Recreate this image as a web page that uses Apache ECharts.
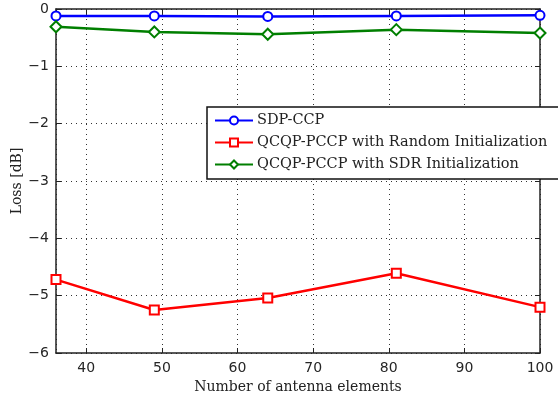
<!DOCTYPE html>
<html>
<head>
<meta charset="utf-8">
<script src="https://cdn.jsdelivr.net/npm/echarts@6/dist/echarts.min.js"></script>
<style>
  html, body { margin: 0; padding: 0; background: #fff; }
  #chart { width: 558px; height: 394px; }
</style>
</head>
<body>
<div id="chart"></div>
<script>
const antennas = [36, 49, 64, 81, 100]
const sdpCcp = [-0.12, -0.12, -0.13, -0.12, -0.11]
const qcqpRandom = [-4.72, -5.25, -5.04, -4.61, -5.2]
const qcqpSdr = [-0.31, -0.40, -0.44, -0.36, -0.42]

const SERIF = '"DejaVu Serif", "Liberation Serif", serif'
const SANS = '"DejaVu Sans", sans-serif'
const minus = (v) => String(v).replace('-', '\u2212')

const gridLine = { show: true, lineStyle: { color: '#333', type: [1, 4], width: 1 } }
const edge = { show: true, onZero: false, lineStyle: { color: '#222', width: 1.5 } }
const tickIn = { show: true, inside: true, length: 5, lineStyle: { color: '#222', width: 1 } }

function pairs(ys) {
  return antennas.map((x, i) => [x, ys[i]])
}

function line(name, ys, color, symbol, size) {
  return {
    name, type: 'line', data: pairs(ys),
    symbol, symbolSize: size,
    lineStyle: { color, width: 2.5 },
    itemStyle: { color: '#fff', borderColor: color, borderWidth: 2 },
    emphasis: { disabled: true },
  }
}

const chart = echarts.init(document.getElementById('chart'))
chart.setOption({
  animation: false,
  textStyle: { fontFamily: SANS },
  grid: { left: 56, right: 18, top: 9, bottom: 41, outerBoundsMode: 'none', containLabel: false },
  xAxis: [
    {
      type: 'value', min: 36, max: 100, splitNumber: 7,
      axisLine: edge, axisTick: tickIn, splitLine: gridLine,
      axisLabel: { color: '#262626', fontSize: 14, fontFamily: SANS, margin: 8, showMinLabel: false },
      name: 'Number of antenna elements', nameLocation: 'middle', nameGap: 24,
      nameTextStyle: { color: '#222', fontSize: 14, fontFamily: SERIF },
    },
    {
      type: 'value', min: 36, max: 100, splitNumber: 7, position: 'top',
      axisLine: edge, axisTick: tickIn, splitLine: { show: false },
      axisLabel: { show: false },
    },
  ],
  yAxis: [
    {
      type: 'value', min: -6, max: 0, interval: 1,
      axisLine: edge, axisTick: tickIn, splitLine: gridLine,
      axisLabel: { color: '#262626', fontSize: 14, fontFamily: SANS, margin: 7, formatter: minus },
      name: 'Loss [dB]', nameLocation: 'middle', nameGap: 32, nameMoveOverlap: false,
      nameTextStyle: { color: '#222', fontSize: 14, fontFamily: SERIF },
    },
    {
      type: 'value', min: -6, max: 0, interval: 1, position: 'right',
      axisLine: edge, axisTick: tickIn, splitLine: { show: false },
      axisLabel: { show: false },
    },
  ],
  legend: {
    orient: 'vertical', left: 207, top: 107,
    backgroundColor: '#fff', borderColor: '#111', borderWidth: 1.5,
    padding: [6, 18, 7, 7], itemGap: 7,
    itemWidth: 38, itemHeight: 10,
    textStyle: { color: '#222', fontSize: 14.5, fontFamily: SERIF, padding: [0, 0, 0, -1] },
    selectedMode: false,
    data: ['SDP-CCP', 'QCQP-PCCP with Random Initialization', 'QCQP-PCCP with SDR Initialization'],
  },
  series: [
    line('SDP-CCP', sdpCcp, '#0000ff', 'circle', 9),
    line('QCQP-PCCP with Random Initialization', qcqpRandom, '#ff0000', 'rect', 9),
    line('QCQP-PCCP with SDR Initialization', qcqpSdr, '#007f00', 'diamond', 11),
  ],
})
</script>
</body>
</html>
